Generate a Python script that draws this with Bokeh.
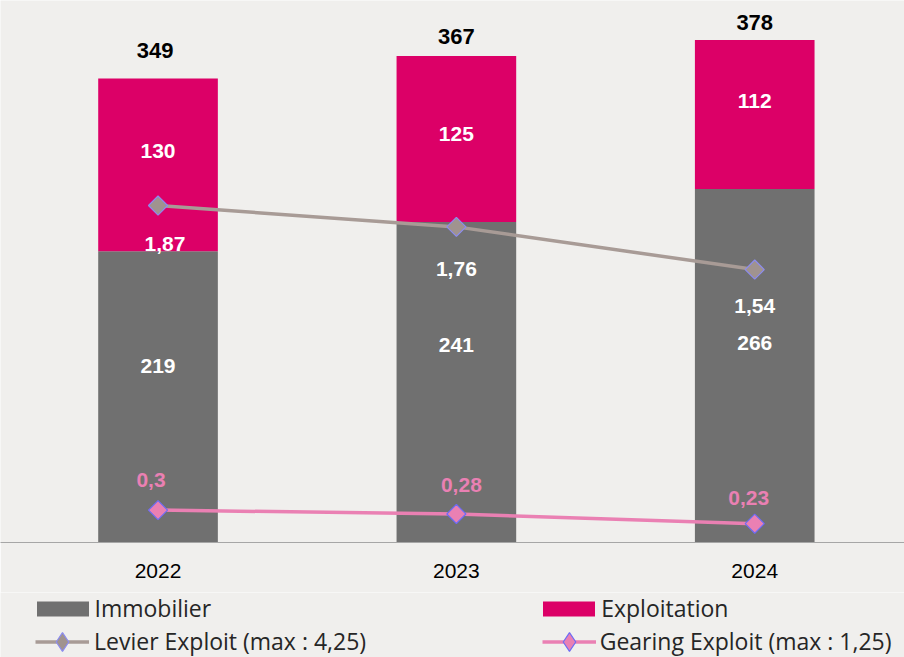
import math
from bokeh.plotting import figure
from bokeh.layouts import column
from bokeh.models import ColumnDataSource, Range1d, FixedTicker, Legend, LegendItem
from bokeh.core.properties import value
from bokeh.embed import file_html
from bokeh.resources import INLINE

# ---------------- data ----------------
years = ["2022", "2023", "2024"]
immobilier = [219, 241, 266]
exploitation = [130, 125, 112]
levier = [1.87, 1.76, 1.54]
gearing = [0.30, 0.28, 0.23]
immobilier_labels = ["219", "241", "266"]
exploitation_labels = ["130", "125", "112"]
total_labels = ["349", "367", "378"]
levier_labels = ["1,87", "1,76", "1,54"]
gearing_labels = ["0,3", "0,28", "0,23"]
legend_labels = ["Immobilier", "Exploitation",
                 "Levier Exploit (max : 4,25)", "Gearing Exploit (max : 1,25)"]

# ---------------- styles ----------------
BG = "#f0efed"
GRAY = "#707070"
MAGENTA = "#dc0067"
LEV_LINE = "#a89b96"
LEV_FILL = "#a0938f"
LEV_EDGE = "#8c8cf0"
GEAR_LINE = "#ea80b3"
GEAR_FILL = "#ea80b3"
GEAR_EDGE = "#6c6cf5"
NUM_FONT = "Liberation Sans"
LEG_FONT = "Open Sans"

x = list(range(len(years)))
totals = [a + b for a, b in zip(immobilier, exploitation)]
mid_imm = [a / 2 for a in immobilier]
mid_exp = [a + b / 2 for a, b in zip(immobilier, exploitation)]

# ---------------- main chart ----------------
p = figure(width=904, height=592, output_backend="svg", toolbar_location=None,
           x_range=Range1d(-0.528, 2.502), y_range=Range1d(0, 407.7),
           y_axis_location=None,
           min_border_left=0, min_border_right=0, min_border_top=0,
           min_border_bottom=50,
           background_fill_color=BG, border_fill_color=BG, outline_line_color=None)
p.extra_y_ranges = {"lev": Range1d(0.133, 2.927)}
p.xgrid.visible = False
p.ygrid.visible = False

ax = p.xaxis[0]
ax.ticker = FixedTicker(ticks=x)
ax.major_label_overrides = {i: y for i, y in zip(x, years)}
ax.axis_line_color = "#a6a6a6"
ax.axis_line_width = 1.2
ax.major_tick_line_color = None
ax.minor_tick_line_color = None
ax.major_tick_out = 0
ax.major_tick_in = 0
ax.major_label_standoff = 21
ax.major_label_text_font = NUM_FONT
ax.major_label_text_font_size = "21px"
ax.major_label_text_color = "#000000"

p.vbar(x=x, bottom=0, top=immobilier, width=0.401, fill_color=GRAY, line_color=None)
p.vbar(x=x, bottom=immobilier, top=totals, width=0.401, fill_color=MAGENTA, line_color=None)

p.line(x, levier, y_range_name="lev", line_color=LEV_LINE, line_width=3.5)
p.scatter(x, levier, y_range_name="lev", marker="square", angle=math.pi / 4, size=13.5,
          fill_color=LEV_FILL, line_color=LEV_EDGE, line_width=1.2)
p.line(x, gearing, y_range_name="lev", line_color=GEAR_LINE, line_width=3.5)
p.scatter(x, gearing, y_range_name="lev", marker="square", angle=math.pi / 4, size=13.5,
          fill_color=GEAR_FILL, line_color=GEAR_EDGE, line_width=1.2)

# ---------------- labels ----------------
def labels(xs, ys, texts, color, size, dx, dy, y_range_name="default"):
    src = ColumnDataSource(dict(x=xs, y=ys, text=texts, dx=dx, dy=dy))
    p.text(x="x", y="y", text="text", source=src, x_offset="dx", y_offset="dy",
           y_range_name=y_range_name,
           text_font=value(NUM_FONT), text_font_style="bold", text_font_size=size,
           text_color=color, text_align="center", text_baseline="middle")

labels(x, mid_imm, immobilier_labels, "white", "21px", [0, 0, 0], [-31, -37, -23])
labels(x, mid_exp, exploitation_labels, "white", "21px", [0, 0, 0], [-14, -5, -13])
labels(x, totals, total_labels, "black", "22px", [-3, 0, 0], [-28, -19, -17])
labels(x, levier, levier_labels, "white", "21px", [7, 0, 0], [38, 42, 36], "lev")
labels(x, gearing, gearing_labels, GEAR_LINE, "21px", [-7, 5, -6], [-30, -29, -26], "lev")

# ---------------- legend strip ----------------
q = figure(width=904, height=65, output_backend="svg", toolbar_location=None,
           x_range=Range1d(0, 904), y_range=Range1d(0, 65),
           x_axis_location=None, y_axis_location=None,
           min_border_left=0, min_border_right=0, min_border_top=0, min_border_bottom=0,
           background_fill_color=BG, border_fill_color=BG, outline_line_color=None)
q.xgrid.visible = False
q.ygrid.visible = False

# legend proxies (hidden renderers carrying the series styles)
l_imm = q.vbar(x=x, top=immobilier, width=0.4, fill_color=GRAY, line_color=None, visible=False)
l_exp = q.vbar(x=x, top=exploitation, width=0.4, fill_color=MAGENTA, line_color=None, visible=False)
l_lev_line = q.line(x=x, y=levier, line_color=LEV_LINE, line_width=3.5, visible=False)
l_lev_mk = q.scatter(x=x, y=levier, marker="diamond", fill_color=LEV_FILL,
                     line_color=LEV_EDGE, line_width=1.2, visible=False)
l_gear_line = q.line(x=x, y=gearing, line_color=GEAR_LINE, line_width=3.5, visible=False)
l_gear_mk = q.scatter(x=x, y=gearing, marker="diamond", fill_color=GEAR_FILL,
                      line_color=GEAR_EDGE, line_width=1.2, visible=False)


def make_legend(label, renderers, loc, gw, gh, standoff):
    lg = Legend(items=[LegendItem(label=label, renderers=renderers)], location=loc,
                glyph_width=gw, glyph_height=gh, label_standoff=standoff,
                label_height=30, padding=0, margin=0, spacing=0,
                border_line_color=None, background_fill_alpha=0,
                inactive_fill_alpha=0,
                label_text_font=LEG_FONT, label_text_font_size="23px",
                label_text_color="#262626")
    q.add_layout(lg, "center")


make_legend(legend_labels[0], [l_imm], (29.5, 32.8), 65, 19, 0)
make_legend(legend_labels[1], [l_exp], (536.2, 32.8), 65, 19, 0)
make_legend(legend_labels[2], [l_lev_line, l_lev_mk], (35, -7.5), 54, 47, 5)
make_legend(legend_labels[3], [l_gear_line, l_gear_mk], (541.7, -7.5), 54, 47, 4)

layout = column(p, q, spacing=0)
open("out.html", "w").write(file_html(layout, INLINE))
